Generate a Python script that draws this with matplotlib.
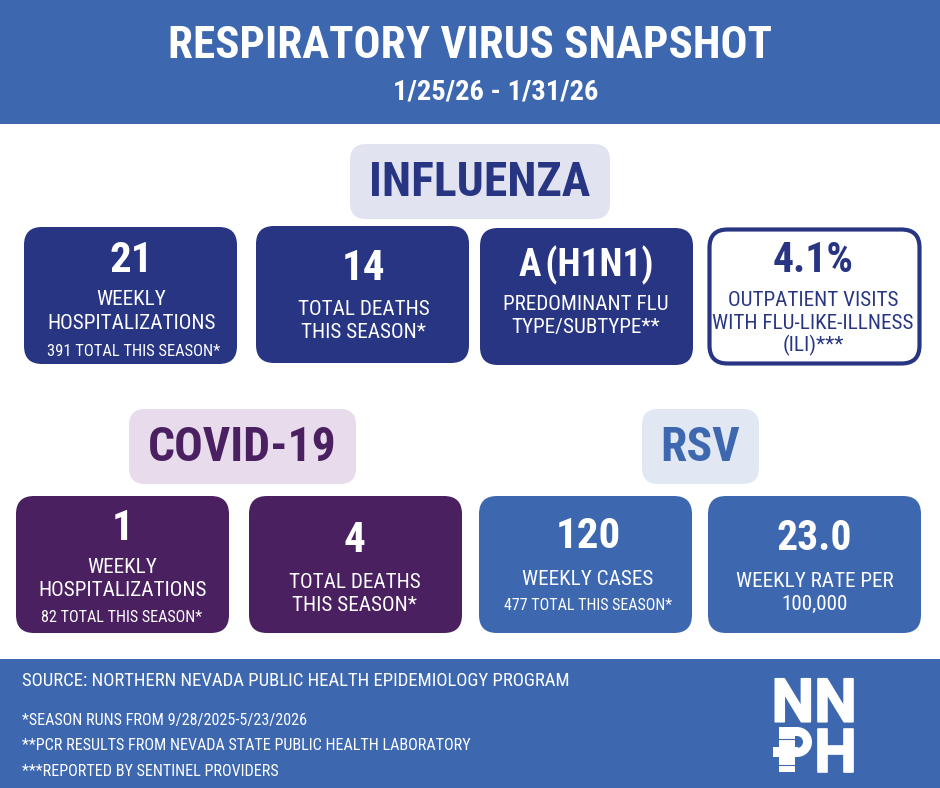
import matplotlib
matplotlib.use("Agg")
import matplotlib.pyplot as plt
import matplotlib.patheffects as pe
from matplotlib.patches import FancyBboxPatch, Rectangle, Wedge

COND = 'Roboto Condensed'

BLUE = '#3d68b0'
NAVY = '#283583'
PURPLE = '#4a2060'

title = 'RESPIRATORY VIRUS SNAPSHOT'
dates = '1/25/26 - 1/31/26'
heads = [('INFLUENZA', 350, 144, 260, 75, '#e1e4f0', NAVY),
         ('COVID-19', 129, 409, 227, 75, '#e8dcec', PURPLE),
         ('RSV', 642, 409, 117, 75, '#e2e8f3', BLUE)]
# x, y, w, h, fill, text colour, text x offset, big, big size, big y, lines, line ys, small, small size, small x, small y
cards = [
    (24, 227, 213, 137, NAVY, 'w', 1, '21', 31, 260, ['WEEKLY', 'HOSPITALIZATIONS'], [298, 322], '391 TOTAL THIS SEASON*', 11.9, 134, 351),
    (256, 226, 213, 137, NAVY, 'w', 1, '14', 31, 269, ['TOTAL DEATHS', 'THIS SEASON*'], [308, 331], None, 0, 0, 0),
    (480, 228, 213, 137, NAVY, 'w', -0.5, 'A\u200a(H1N1)', 27, 265, ['PREDOMINANT FLU', 'TYPE/SUBTYPE**'], [303, 326], None, 0, 0, 0),
    (708, 228, 213, 137, 'w', NAVY, -1.5, '4.1%', 30, 260, ['OUTPATIENT VISITS', 'WITH FLU-LIKE-ILLNESS', '(ILI)***'], [299, 322, 344], None, 0, 0, 0),
    (16, 496, 213, 137, PURPLE, 'w', 0, '1', 31, 529, ['WEEKLY', 'HOSPITALIZATIONS'], [566, 589], '82 TOTAL THIS SEASON*', 11.6, 122, 617),
    (249, 496, 213, 137, PURPLE, 'w', -1, '4', 31, 541, ['TOTAL DEATHS', 'THIS SEASON*'], [581, 604], None, 0, 0, 0),
    (479, 496, 213, 137, BLUE, 'w', 2.5, '120', 31, 537, ['WEEKLY CASES'], [578], '477 TOTAL THIS SEASON*', 11.5, 588, 606),
    (708, 496, 213, 137, BLUE, 'w', 0, '23.0', 30, 539, ['WEEKLY RATE PER', '100,000'], [580, 603], None, 0, 0, 0),
]
source = 'SOURCE: NORTHERN NEVADA PUBLIC HEALTH EPIDEMIOLOGY PROGRAM'
notes = ['*SEASON RUNS FROM 9/28/2025-5/23/2026',
         '**PCR RESULTS FROM NEVADA STATE PUBLIC HEALTH LABORATORY',
         '***REPORTED BY SENTINEL PROVIDERS']
note_y = [720, 746, 772]

fig = plt.figure(figsize=(9.4, 7.88), dpi=100, facecolor='white')
ax = fig.add_axes([0, 0, 1, 1])
ax.set_xlim(0, 940); ax.set_ylim(788, 0); ax.axis('off')

ax.add_patch(Rectangle((0, 0), 940, 124, fc=BLUE, lw=0))
ax.add_patch(Rectangle((0, 659), 940, 129, fc=BLUE, lw=0))

def T(x, y, s, size, color='w', weight='normal', ha='center', **kw):
    ax.text(x, y, s, fontsize=size, color=color, weight=weight, ha=ha, va='center', family=COND, **kw)

def box(x, y, w, h, fc, ec='none', lw=0, r=18):
    ax.add_patch(FancyBboxPatch((x + r, y + r), w - 2 * r, h - 2 * r,
                                boxstyle=f'round,pad={r},rounding_size={r}', fc=fc, ec=ec, lw=lw))

T(470, 46, title, 32.4, weight='bold')
T(496, 92, dates, 20.5, weight='bold')

for s, x, y, w, h, fc, col in heads:
    box(x, y, w, h, fc, r=16)
    T(x + w / 2, y + h / 2 + 1, s, 34.3, color=col, weight='bold')

for x, y, w, h, fc, col, dx, big, bs, by, lines, ly, small, ss, sx, sy in cards:
    if fc == 'w':
        box(x + 1.5, y + 1.5, w - 3, h - 3, 'w', ec=col, lw=3)
    else:
        box(x, y, w, h, fc)
    cx = x + w / 2 + dx
    T(cx, by, big, bs, color=col, weight='bold')
    for s, yy in zip(lines, ly):
        T(cx, yy + 1.5, s, 15.2, color=col)
    if small:
        T(sx, sy, small, ss, color=col)

T(22, 681, source, 13.5, ha='left')
for s, yy in zip(notes, note_y):
    T(22, yy, s, 11.6, ha='left')

# logo
stroke = [pe.withStroke(linewidth=1.2, foreground='w')]
ax.text(857, 772, 'NN\nH', fontsize=43.5, color='w', weight='bold', ha='right', va='baseline',
        multialignment='right', linespacing=0.87, family='Roboto', path_effects=stroke)
ax.add_patch(Wedge((797, 742), 15, -90, 90, width=9, fc='w', lw=0))
ax.add_patch(Rectangle((795, 727), 3, 9, fc='w', lw=0))
ax.add_patch(Rectangle((795, 748), 3, 9, fc='w', lw=0))
ax.add_patch(Rectangle((779, 727), 16, 45, fc='w', lw=0))
ax.add_patch(Rectangle((773, 747), 25, 10, fc='w', lw=0))
ax.plot([779, 795], [738.5, 738.5], color=BLUE, lw=0.8)
ax.plot([779, 795], [764.5, 764.5], color=BLUE, lw=0.8)

fig.savefig('out.png', dpi=100)
